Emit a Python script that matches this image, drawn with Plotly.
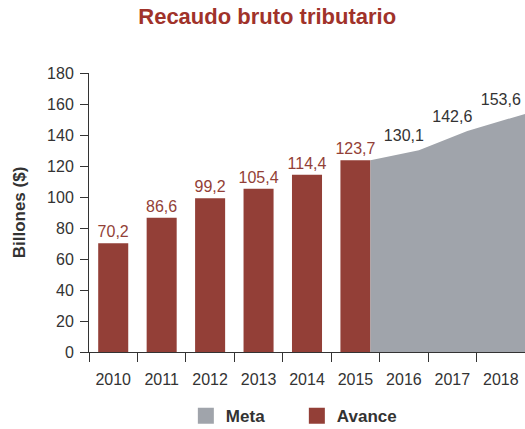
import plotly.graph_objects as go

years = [2010, 2011, 2012, 2013, 2014, 2015, 2016, 2017, 2018]
avance_years = [2010, 2011, 2012, 2013, 2014, 2015]
avance_values = [70.2, 86.6, 99.2, 105.4, 114.4, 123.7]
meta_years = [2015, 2016, 2017, 2018]
meta_values = [123.7, 130.1, 142.6, 153.6]
meta_label_years = [2016, 2017, 2018]
meta_label_values = [130.1, 142.6, 153.6]
y_ticks = [0, 20, 40, 60, 80, 100, 120, 140, 160, 180]

BAR_W = 0.62
X_MIN, X_MAX = years[0] - 0.5, years[-1] + 0.5
FONT = "Liberation Sans, Arial, sans-serif"
RED = "#933F37"
GREY = "#A0A4AB"
DARK = "#333333"

# area starts at the right edge of the last bar; ends at the plot edge
meta_x = [y + BAR_W / 2 for y in meta_years[:-1]] + [X_MAX]

fig = go.Figure()
fig.add_trace(go.Scatter(
    x=meta_x, y=meta_values, name="Meta", mode="lines", showlegend=False,
    line=dict(width=0, color=GREY), fill="tozeroy", fillcolor=GREY,
    hoverinfo="skip"))
fig.add_trace(go.Bar(
    x=avance_years, y=avance_values, name="Avance", width=BAR_W, showlegend=False,
    marker=dict(color=RED, line=dict(width=0)),
    texttemplate="%{y:.1f}", textposition="outside", constraintext="none",
    textfont=dict(color=RED, size=16, family=FONT), cliponaxis=False))
fig.add_trace(go.Scatter(
    x=meta_label_years, y=meta_label_values, mode="markers+text",
    marker=dict(size=7, opacity=0),
    text=[f"{v:.1f}".replace(".", ",") for v in meta_label_values],
    textposition="top center", showlegend=False, hoverinfo="skip",
    textfont=dict(color=DARK, size=16, family=FONT), cliponaxis=False))
# legend entries (square swatches)
fig.add_trace(go.Scatter(x=[None], y=[None], mode="markers", name="<b>Meta</b>",
                         marker=dict(symbol="square", size=16, color=GREY)))
fig.add_trace(go.Scatter(x=[None], y=[None], mode="markers", name="<b>Avance</b>",
                         marker=dict(symbol="square", size=16, color=RED)))

fig.update_layout(
    width=525, height=429,
    margin=dict(l=89, r=0, t=73, b=77, autoexpand=False),
    paper_bgcolor="white", plot_bgcolor="white",
    separators=",.",
    font=dict(family=FONT, color=DARK, size=16),
    title=dict(text="<b>Recaudo bruto tributario</b>", x=0.509, xanchor="center",
               y=0.962, yanchor="middle",
               font=dict(size=22, color="#A0322A", family=FONT)),
    showlegend=True,
    legend=dict(orientation="h", x=0.354, xanchor="left", xref="container",
                y=0.03, yanchor="middle", yref="container",
                font=dict(size=17, color=DARK, family=FONT),
                entrywidth=66, entrywidthmode="pixels",
                itemsizing="trace", bgcolor="rgba(0,0,0,0)"),
    xaxis=dict(range=[X_MIN, X_MAX], tickvals=years, ticktext=[str(y) for y in years],
               ticks="", showgrid=False, zeroline=False,
               showline=True, linecolor=DARK, linewidth=1,
               tickfont=dict(size=16, color=DARK), ticklabelstandoff=13,
               minor=dict(tickvals=[y - 0.5 for y in years] + [X_MAX], ticks="outside",
                          ticklen=9, tickcolor=DARK, showgrid=False)),
    yaxis=dict(range=[0, 180], tickvals=y_ticks, ticks="outside", ticklen=8,
               tickcolor=DARK, showgrid=False, zeroline=False,
               showline=True, linecolor=DARK, linewidth=1,
               tickfont=dict(size=16, color=DARK), ticklabelstandoff=3,
               title=dict(text="<b>Billones ($)</b>", standoff=17,
                          font=dict(size=17, color=DARK))),
)

fig.write_html("out.html", config={"displayModeBar": False},
               post_script="document.body.style.margin='0';")
